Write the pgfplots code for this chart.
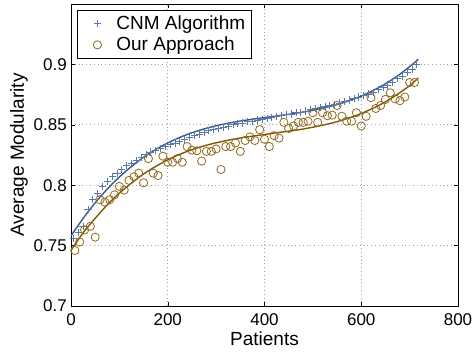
\documentclass[border=0pt]{standalone}
\usepackage{pgfplots}
\pgfplotsset{compat=1.18}
\usepackage{fontspec}
\setmainfont{Liberation Sans}
\definecolor{cnmline}{RGB}{58,90,140}
\definecolor{cnmmark}{RGB}{90,120,170}
\definecolor{ourline}{RGB}{130,88,5}
\definecolor{ourmark}{RGB}{145,105,30}
\begin{document}
\begin{tikzpicture}
\begin{axis}[
  at={(0pt,0pt)}, anchor=south west,
  scale only axis,
  width=387pt, height=302pt,
  xmin=0, xmax=800, ymin=0.7, ymax=0.95,
  xtick={0,200,400,600,800},
  ytick={0.7,0.75,0.8,0.85,0.9},
  yticklabels={0.7,0.75,0.8,0.85,0.9},
  xticklabels={0,200,400,600,800},
  tick align=inside,
  major tick length=4pt,
  tick style={black, line width=0.5pt},
  axis line style={black, line width=0.9pt},
  grid=major,
  grid style={gray!75, dash pattern=on 0.8pt off 3pt, line width=0.7pt},
  font=\fontsize{19}{22}\selectfont,
  ticklabel style={font=\fontsize{17}{20}\selectfont},
  yticklabel style={inner xsep=0pt, xshift=-4pt},
  xticklabel style={inner ysep=0pt, yshift=-7pt},
  xlabel={Patients},
  ylabel={Average Modularity},
  xlabel style={at={(axis description cs:0.5,0)}, anchor=base, yshift=-39pt},
  ylabel style={at={(axis description cs:0,0.5)}, anchor=base, yshift=47pt},
  legend style={at={(0.0155,0.980)}, anchor=north west,
    draw=black, line width=0.8pt, fill=white,
    font=\fontsize{19}{22}\selectfont, inner sep=2.5pt, row sep=0pt,
    nodes={inner ysep=3pt, inner xsep=4pt}, cells={anchor=west}},
  legend cell align=left,
  legend image code/.code={\path[draw=none] (0pt,0pt) -- (32.5pt,0pt); \draw[#1] plot coordinates {(17.5pt,0pt)};},
]
\addplot[only marks, mark=+, mark size=3.6pt, cnmmark, line width=0.8pt] coordinates {
(5,0.7560)(15,0.7610)(25,0.7660)(35,0.7800)(45,0.7880)(55,0.7930)(65,0.7990)(75,0.8030)
(85,0.8070)(95,0.8100)(105,0.8130)(115,0.8160)(125,0.8180)(135,0.8205)(145,0.8230)(155,0.8255)
(165,0.8275)(175,0.8290)(185,0.8305)(195,0.8320)(205,0.8335)(215,0.8350)(225,0.8365)(235,0.8380)
(245,0.8395)(255,0.8410)(265,0.8420)(275,0.8435)(285,0.8450)(295,0.8460)(305,0.8470)(315,0.8480)
(325,0.8490)(335,0.8500)(345,0.8510)(355,0.8515)(365,0.8525)(375,0.8530)(385,0.8540)(395,0.8545)
(405,0.8555)(415,0.8560)(425,0.8570)(435,0.8575)(445,0.8585)(455,0.8590)(465,0.8600)(475,0.8605)
(485,0.8615)(495,0.8625)(505,0.8635)(515,0.8640)(525,0.8650)(535,0.8660)(545,0.8670)(555,0.8680)
(565,0.8690)(575,0.8705)(585,0.8715)(595,0.8730)(605,0.8745)(615,0.8755)(625,0.8770)(635,0.8790)
(645,0.8810)(655,0.8830)(665,0.8855)(675,0.8880)(685,0.8900)(695,0.8930)(705,0.8960)(715,0.9000)
};
\addlegendentry{CNM Algorithm}
\addplot[only marks, mark=o, mark size=4.1pt, ourmark, line width=0.8pt] coordinates {
(8,0.746)(18,0.753)(28,0.763)(40,0.766)(50,0.757)(60,0.788)(70,0.786)(80,0.788)
(90,0.792)(100,0.799)(110,0.796)(120,0.804)(130,0.807)(140,0.810)(150,0.802)(160,0.822)
(170,0.810)(180,0.808)(190,0.824)(200,0.819)(210,0.819)(220,0.822)(230,0.819)(240,0.832)
(250,0.829)(260,0.8285)(270,0.820)(280,0.828)(290,0.828)(300,0.830)(310,0.813)(320,0.832)
(330,0.832)(340,0.835)(350,0.828)(360,0.837)(370,0.840)(380,0.837)(390,0.846)(400,0.838)
(410,0.832)(420,0.841)(430,0.839)(440,0.852)(450,0.847)(460,0.849)(470,0.852)(480,0.852)
(490,0.853)(500,0.860)(510,0.852)(520,0.860)(530,0.8575)(540,0.858)(550,0.866)(560,0.857)
(570,0.853)(580,0.853)(590,0.860)(600,0.849)(610,0.857)(620,0.8725)(630,0.8635)(640,0.866)
(650,0.871)(660,0.8765)(670,0.8715)(680,0.870)(690,0.873)(700,0.885)(710,0.885)
};
\addlegendentry{Our Approach}
\addplot[cnmline, line width=1.4pt, smooth, forget plot] coordinates {
(0,0.7580)(25,0.7725)(50,0.7854)(75,0.7968)(100,0.8068)(125,0.8155)(150,0.8231)(175,0.8295)
(200,0.8350)(225,0.8396)(250,0.8434)(275,0.8466)(300,0.8492)(325,0.8513)(350,0.8531)(375,0.8546)
(400,0.8560)(425,0.8573)(450,0.8587)(475,0.8602)(500,0.8620)(525,0.8642)(550,0.8668)(575,0.8700)
(600,0.8738)(625,0.8785)(650,0.8840)(675,0.8905)(700,0.8981)(718,0.9043)
};
\addplot[ourline, line width=1.4pt, smooth, forget plot] coordinates {
(0,0.7460)(25,0.7606)(50,0.7726)(75,0.7838)(100,0.7934)(125,0.8018)(150,0.8093)(175,0.8155)
(200,0.8210)(225,0.8256)(250,0.8294)(275,0.8325)(300,0.8351)(325,0.8372)(350,0.8391)(375,0.8406)
(400,0.8420)(425,0.8434)(450,0.8447)(475,0.8462)(500,0.8480)(525,0.8501)(550,0.8526)(575,0.8557)
(600,0.8594)(625,0.8638)(650,0.8690)(675,0.8753)(700,0.8824)(718,0.8888)
};
\end{axis}
\pgfresetboundingbox
\path[use as bounding box] (-71pt,-48pt) rectangle (403pt,306pt);
\end{tikzpicture}
\end{document}
